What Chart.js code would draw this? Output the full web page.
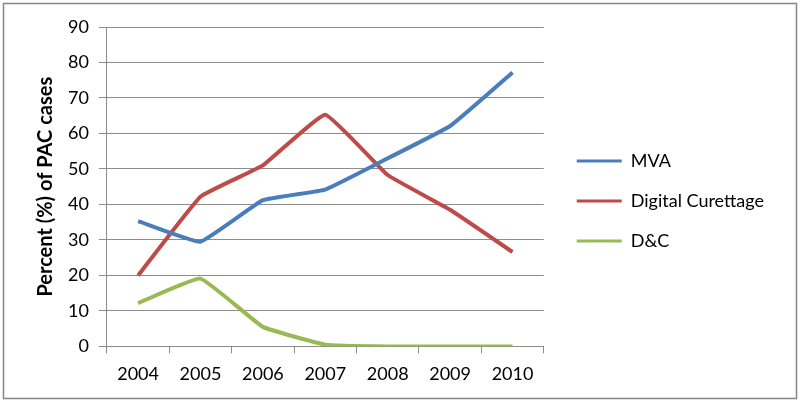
<!DOCTYPE html>
<html>
<head>
<meta charset="utf-8">
<script src="https://cdn.jsdelivr.net/npm/chart.js@4.4.1/dist/chart.umd.min.js"></script>
<style>
  html, body { margin: 0; padding: 0; background: #fff; }
  #wrap { width: 800px; height: 402px; position: relative; }
</style>
</head>
<body>
<div id="wrap"><canvas id="myChart"></canvas></div>
<script>
const years = ['2004', '2005', '2006', '2007', '2008', '2009', '2010'];
const mva = [35.3, 29.5, 41.2, 44.2, 53, 62.1, 77.2];
const digitalCurettage = [20, 42.2, 51, 65.3, 48.3, 38.5, 26.6];
const dAndC = [12.2, 19.1, 5.5, 0.5, 0, 0, 0];
const yTicks = [0, 10, 20, 30, 40, 50, 60, 70, 80, 90];

const gridColor = '#8c8c8c';
const fontFamily = 'Lato, "Liberation Sans", sans-serif';
const legendShiftX = 11;
const legendShiftY = -10;

// white background and the grey frame round the whole chart
const framePlugin = {
    id: 'frame',
    beforeDraw(chart) {
        const ctx = chart.ctx;
        ctx.save();
        ctx.fillStyle = '#ffffff';
        ctx.fillRect(0, 0, chart.width, chart.height);
        ctx.strokeStyle = '#868686';
        ctx.lineWidth = 1.5;
        ctx.strokeRect(3.5, 3.5, chart.width - 7, chart.height - 7);
        ctx.restore();
    }
};

// nudge the legend: wider gap to the plot, a little higher
const legendGapPlugin = {
    id: 'legendGap',
    afterLayout(chart) {
        if (chart.legend) {
            chart.legend.left += legendShiftX;
            chart.legend.right += legendShiftX;
            chart.legend.top += legendShiftY;
            chart.legend.bottom += legendShiftY;
        }
    }
};

const ctx = document.getElementById('myChart').getContext('2d');
const chart = new Chart(ctx, {
    type: 'line',
    data: {
        labels: years,
        datasets: [
            { label: 'MVA', data: mva, borderColor: '#4a7ebb', backgroundColor: '#4a7ebb' },
            { label: 'Digital Curettage', data: digitalCurettage, borderColor: '#be4b48', backgroundColor: '#be4b48' },
            { label: 'D&C', data: dAndC, borderColor: '#98b954', backgroundColor: '#98b954' }
        ]
    },
    options: {
        responsive: true,
        maintainAspectRatio: false,
        animation: false,
        datasets: {
            line: {
                borderWidth: 4,
                pointRadius: 0,
                tension: 0.1,
                fill: false
            }
        },
        layout: {
            padding: { left: 32, right: 37, top: 27, bottom: 7 }
        },
        plugins: {
            legend: {
                display: true,
                position: 'right',
                maxWidth: 300,
                labels: {
                    color: '#000',
                    font: { family: fontFamily, size: 18 },
                    boxWidth: 45,
                    boxHeight: 3,
                    padding: 22,
                    generateLabels(chart) {
                        return Chart.defaults.plugins.legend.labels.generateLabels(chart)
                            .map(item => ({ ...item, lineWidth: 0 }));
                    }
                }
            },
            tooltip: { enabled: false }
        },
        scales: {
            x: {
                offset: true,
                grid: {
                    offset: true,
                    drawOnChartArea: false,
                    drawTicks: true,
                    tickLength: 7,
                    color: gridColor
                },
                border: { color: gridColor },
                ticks: {
                    color: '#000',
                    font: { family: fontFamily, size: 18 },
                    padding: 10,
                    maxRotation: 0
                }
            },
            y: {
                min: 0,
                max: 90,
                afterBuildTicks(axis) {
                    axis.ticks = yTicks.map(v => ({ value: v }));
                },
                grid: {
                    color: gridColor,
                    tickLength: 8
                },
                border: { color: gridColor },
                ticks: {
                    color: '#000',
                    font: { family: fontFamily, size: 18 },
                    padding: 10
                },
                title: {
                    display: true,
                    text: 'Percent (%) of PAC cases',
                    color: '#000',
                    font: { family: fontFamily, size: 20, weight: 'bold' },
                    padding: { top: 2, bottom: 0 }
                }
            }
        }
    },
    plugins: [framePlugin, legendGapPlugin]
});
</script>
</body>
</html>
